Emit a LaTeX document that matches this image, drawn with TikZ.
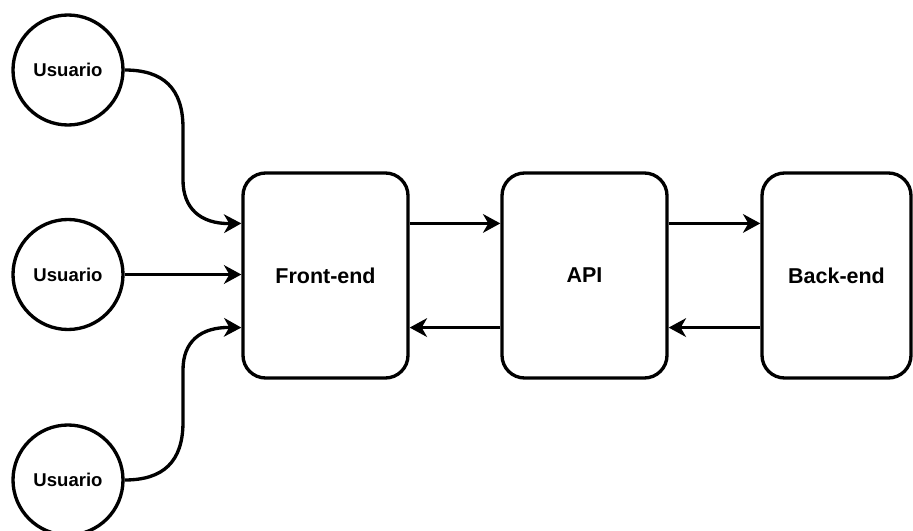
\documentclass[tikz,border=0pt]{standalone}
\usepackage{fontspec}
\setmainfont{Liberation Sans}
\usetikzlibrary{arrows.meta,calc}
\begin{document}
\begin{tikzpicture}[x=0.75pt,y=-0.75pt,
  user/.style={circle,draw,line width=2.5pt,minimum size=82.5pt,inner sep=0pt,
    font=\bfseries\fontsize{13.9}{16}\selectfont},
  block/.style={rectangle,draw,line width=2.5pt,rounded corners=17pt,
    minimum width=123.75pt,minimum height=153.75pt,inner sep=0pt,
    font=\bfseries\fontsize{16.1}{19}\selectfont},
  edge/.style={line width=2.5pt,-{Stealth[length=13pt,width=14pt,inset=4pt]}}]
\useasboundingbox (0,0) rectangle (913,531);
\node[user] (u1) at (68,70) {Usuario};
\node[user] (u2) at (68,274.5) {Usuario};
\node[user] (u3) at (68,480) {Usuario};
\node[block] (fe) at (325.5,275.5) {Front-end};
\node[block] (api) at (584.5,275.5) {API};
\node[block,minimum width=111.75pt] (be) at (836.5,275.5) {Back-end};
\coordinate (t1) at ($(fe.north west)!0.25!(fe.south west)$);
\coordinate (t2) at ($(fe.north west)!0.5!(fe.south west)$);
\coordinate (t3) at ($(fe.north west)!0.75!(fe.south west)$);
\draw[edge] (u1.east) .. controls (163,70) and (183,88) .. (183,128) -- (183,180) .. controls (183,208) and (200,224) .. (t1);
\draw[edge] (u2.east) -- (u2.east -| t2);
\draw[edge] (u3.east) .. controls (163,480) and (183,462) .. (183,422) -- (183,370) .. controls (183,342) and (200,327) .. (t3);
\draw[edge] ($(fe.north east)!0.25!(fe.south east)$) -- ($(api.north west)!0.25!(api.south west)$);
\draw[edge] ($(api.north west)!0.75!(api.south west)$) -- ($(fe.north east)!0.75!(fe.south east)$);
\draw[edge] ($(api.north east)!0.25!(api.south east)$) -- ($(be.north west)!0.25!(be.south west)$);
\draw[edge] ($(be.north west)!0.75!(be.south west)$) -- ($(api.north east)!0.75!(api.south east)$);
\end{tikzpicture}
\end{document}
